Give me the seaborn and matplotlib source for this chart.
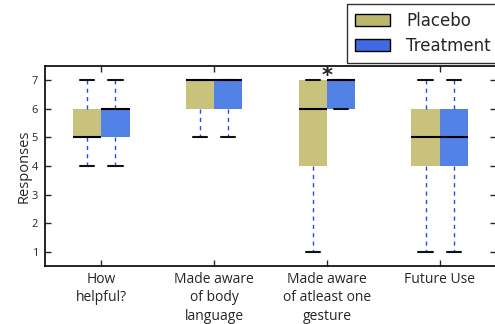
import numpy as np
import pandas as pd
import matplotlib
matplotlib.use("Agg")
import matplotlib.pyplot as plt
from matplotlib.patches import Patch
import seaborn as sns

# survey answers (1-7 scale), one list per question
questions = ["How\nhelpful?", "Made aware\nof body\nlanguage",
             "Made aware\nof atleast one\ngesture", "Future Use"]
groups = ["Placebo", "Treatment"]

placebo_responses = [
    [4, 5, 5, 5, 5, 6, 6, 7],
    [5, 6, 6, 7, 7, 7, 7, 7],
    [1, 4, 4, 6, 6, 7, 7, 7],
    [1, 4, 4, 5, 5, 6, 6, 7],
]
treatment_responses = [
    [4, 5, 5, 6, 6, 6, 6, 7],
    [5, 6, 6, 7, 7, 7, 7, 7],
    [6, 6, 6, 7, 7, 7, 7, 7],
    [1, 4, 4, 5, 5, 6, 6, 7],
]
significant = ["Made aware\nof atleast one\ngesture"]

rows = []
for q, p, t in zip(questions, placebo_responses, treatment_responses):
    for v in p:
        rows.append((q, "Placebo", v))
    for v in t:
        rows.append((q, "Treatment", v))
df = pd.DataFrame(rows, columns=["question", "group", "response"])

sns.set_style("ticks")
plt.rcParams["font.family"] = ["Open Sans", "DejaVu Sans"]
plt.rcParams["xtick.direction"] = "in"
plt.rcParams["ytick.direction"] = "in"

box_colors = {"Placebo": "#C8C27D", "Treatment": "#5282E6"}
legend_colors = {"Placebo": "#BDB76B", "Treatment": "#4169E1"}

fig = plt.figure(figsize=(4.95, 3.24), dpi=100)
ax = fig.add_axes([45 / 495, 58 / 324, 451 / 495, 200 / 324])

sns.boxplot(data=df, x="question", y="response", hue="group",
            order=questions, hue_order=groups, palette=box_colors,
            saturation=1, width=0.5, gap=0, whis=(0, 100), showfliers=False,
            boxprops=dict(edgecolor="none", linewidth=0),
            medianprops=dict(color="black", linewidth=1.5),
            whiskerprops=dict(color="#2448F0", linewidth=1, linestyle=(0, (3, 3))),
            capprops=dict(color="#111111", linewidth=1.5),
            legend=False, ax=ax)

for q in significant:
    ax.text(questions.index(q), 6.95, "*", ha="center", va="baseline",
            fontsize=15, fontweight="bold", color="#222222", family="DejaVu Sans")

ax.set_xlim(-0.5, 3.5)
ax.set_ylim(0.5, 7.5)
ax.set_yticks([1, 2, 3, 4, 5, 6, 7])
ax.tick_params(axis="y", labelsize=8, length=4, width=1, right=True, pad=5)
ax.tick_params(axis="x", labelsize=10, length=4, width=1, top=True, pad=4)
for lab in ax.get_xticklabels():
    lab.set_linespacing(1.35)
ax.set_xlabel("")
ax.set_ylabel("Responses", fontsize=10.5, labelpad=0)
for s in ax.spines.values():
    s.set_visible(True)
    s.set_linewidth(1.2)
    s.set_color("black")

handles = [Patch(facecolor=legend_colors[g], edgecolor="black", linewidth=1, label=g)
           for g in groups]
leg = fig.legend(handles=handles, loc="upper left",
                 bbox_to_anchor=(347 / 495, 1 - 4 / 324),
                 prop={"family": "DejaVu Sans", "size": 12},
                 frameon=True, fancybox=False, edgecolor="black",
                 handlelength=2.1, handleheight=0.7, handletextpad=1.0,
                 labelspacing=0.45, borderpad=0.45, borderaxespad=0)
leg.get_frame().set_linewidth(1)

fig.savefig("out.png", dpi=100)
